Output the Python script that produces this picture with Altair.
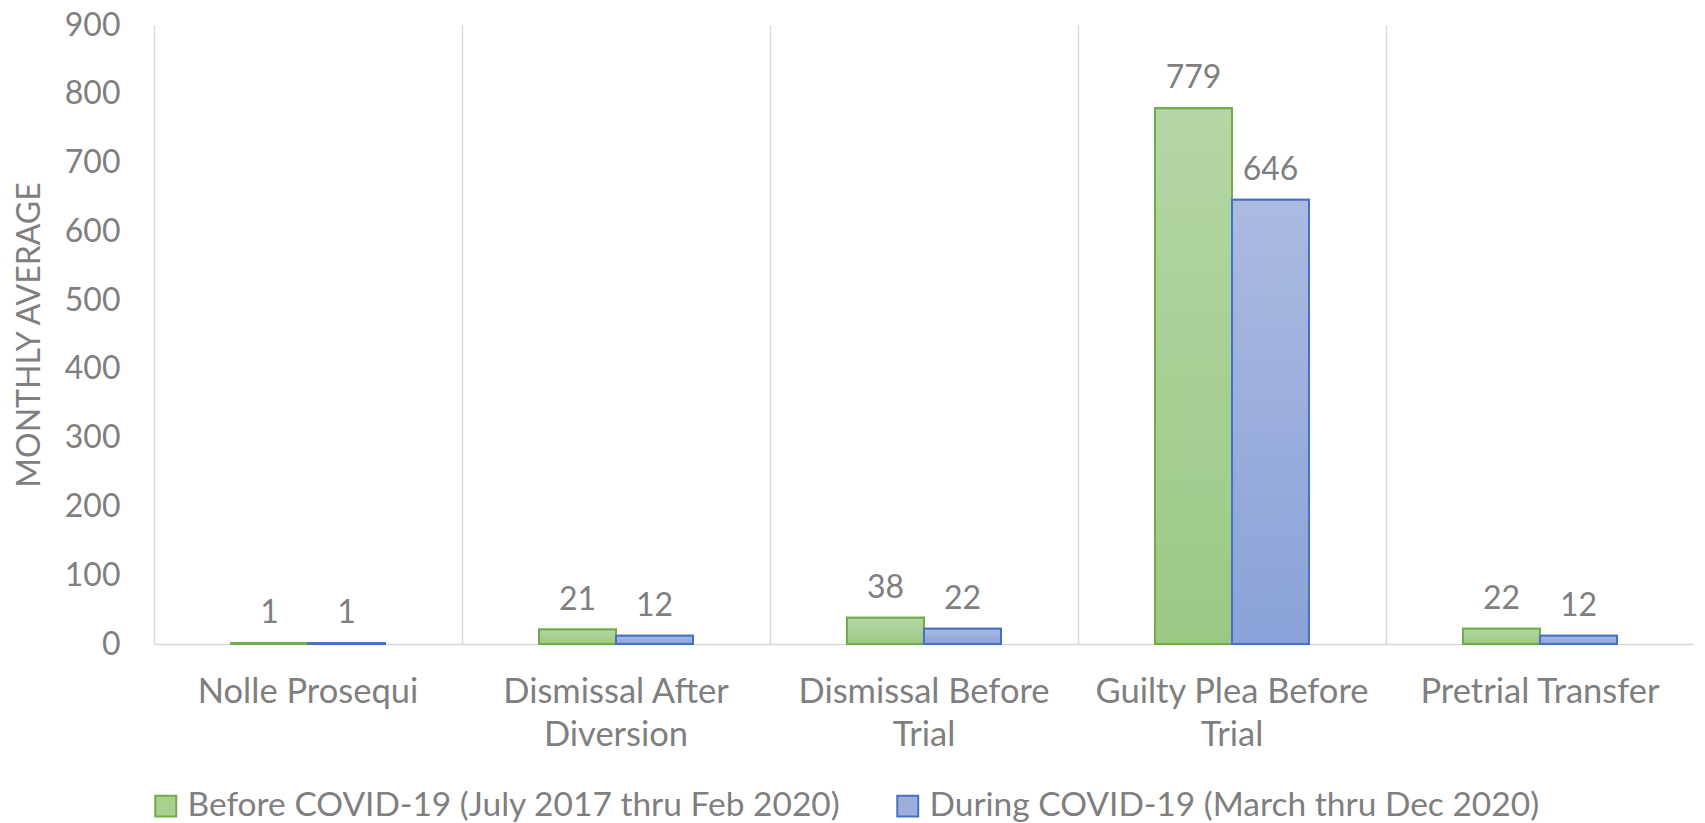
import json
import altair as alt
import pandas as pd

categories = ["Nolle Prosequi", "Dismissal After Diversion", "Dismissal Before Trial",
              "Guilty Plea Before Trial", "Pretrial Transfer"]
label_lines = {
    "Dismissal After Diversion": ["Dismissal After", "Diversion"],
    "Dismissal Before Trial": ["Dismissal Before", "Trial"],
    "Guilty Plea Before Trial": ["Guilty Plea Before", "Trial"],
}
series = ["Before COVID-19 (July 2017 thru Feb 2020)", "During COVID-19 (March thru Dec 2020)"]
before_values = [1, 21, 38, 779, 22]
during_values = [1, 12, 22, 646, 12]
y_ticks = [0, 100, 200, 300, 400, 500, 600, 700, 800, 900]

fill_colors = ["#a9d08e", "#9cafdc"]
gradient_tops = ["#b5d6a5", "#abbae1"]
gradient_bottoms = ["#9bc984", "#8aa2d8"]
stroke_colors = ["#70ad47", "#4472c4"]
gray = "#7f7f7f"
font = "Lato"

rows = []
for c, b, d in zip(categories, before_values, during_values):
    rows.append({"category": c, "series": series[0], "value": b})
    rows.append({"category": c, "series": series[1], "value": d})
df = pd.DataFrame(rows)

expr = ""
for k, v in label_lines.items():
    expr += f"datum.label == {json.dumps(k)} ? {json.dumps(v)} : "
expr += "datum.label"

x_enc = alt.X(
    "category:N", sort=categories,
    scale=alt.Scale(paddingInner=0, paddingOuter=0),
    axis=alt.Axis(title=None, labelAngle=0, labelExpr=expr, grid=True, bandPosition=0,
                  gridColor="#d9d9d9", gridWidth=1.5, domainColor="#d9d9d9", domainWidth=1.5,
                  ticks=False, labelFontSize=34.5, labelColor=gray, labelFont=font, labelLimit=0,
                  labelLineHeight=43, labelPadding=48, labelBaseline="middle"),
)
xoff_enc = alt.XOffset("series:N", sort=series, scale=alt.Scale(domain=series, paddingOuter=1, paddingInner=0))
y_enc = alt.Y(
    "value:Q", scale=alt.Scale(domain=[0, 900], nice=False),
    axis=alt.Axis(title="MONTHLY AVERAGE", values=y_ticks, grid=False, ticks=False, domain=False,
                  labelFontSize=32, labelColor=gray, labelFont=font, labelPadding=34,
                  titleFontSize=32, titleFontWeight="normal", titleColor=gray, titleFont=font,
                  titlePadding=18),
)

legend = alt.Legend(title=None, orient="none", legendX=-5, legendY=764, direction="horizontal",
                    symbolType="square", symbolSize=440, symbolStrokeWidth=2,
                    labelFontSize=33.5, labelColor=gray, labelFont=font, columnPadding=50,
                    labelOffset=5, labelLimit=0)

base = alt.Chart(df).encode(x=x_enc, xOffset=xoff_enc, y=y_enc)

bars = base.mark_bar(strokeWidth=2).encode(
    fill=alt.Fill("series:N", sort=series, scale=alt.Scale(domain=series, range=fill_colors), legend=legend),
    stroke=alt.Stroke("series:N", sort=series, scale=alt.Scale(domain=series, range=stroke_colors), legend=legend),
)

layers = [bars]
for s, top, bottom, sc in zip(series, gradient_tops, gradient_bottoms, stroke_colors):
    grad = alt.Gradient(gradient="linear", x1=0, x2=0, y1=0, y2=1,
                        stops=[alt.GradientStop(color=top, offset=0),
                               alt.GradientStop(color=bottom, offset=1)])
    layers.append(
        base.mark_bar(fill=grad, stroke=sc, strokeWidth=2).transform_filter(
            alt.datum.series == s
        )
    )

labels = base.mark_text(dy=-20, baseline="alphabetic", fontSize=32, color=gray, font=font).encode(
    text="value:Q"
)
layers.append(labels)

chart = alt.layer(*layers).properties(
    width=1540, height=619, padding={"left": 5, "top": 1, "right": 0, "bottom": 0}
).configure_view(stroke=None)

chart.save("out.html", embed_options={"renderer": "svg", "actions": False})
